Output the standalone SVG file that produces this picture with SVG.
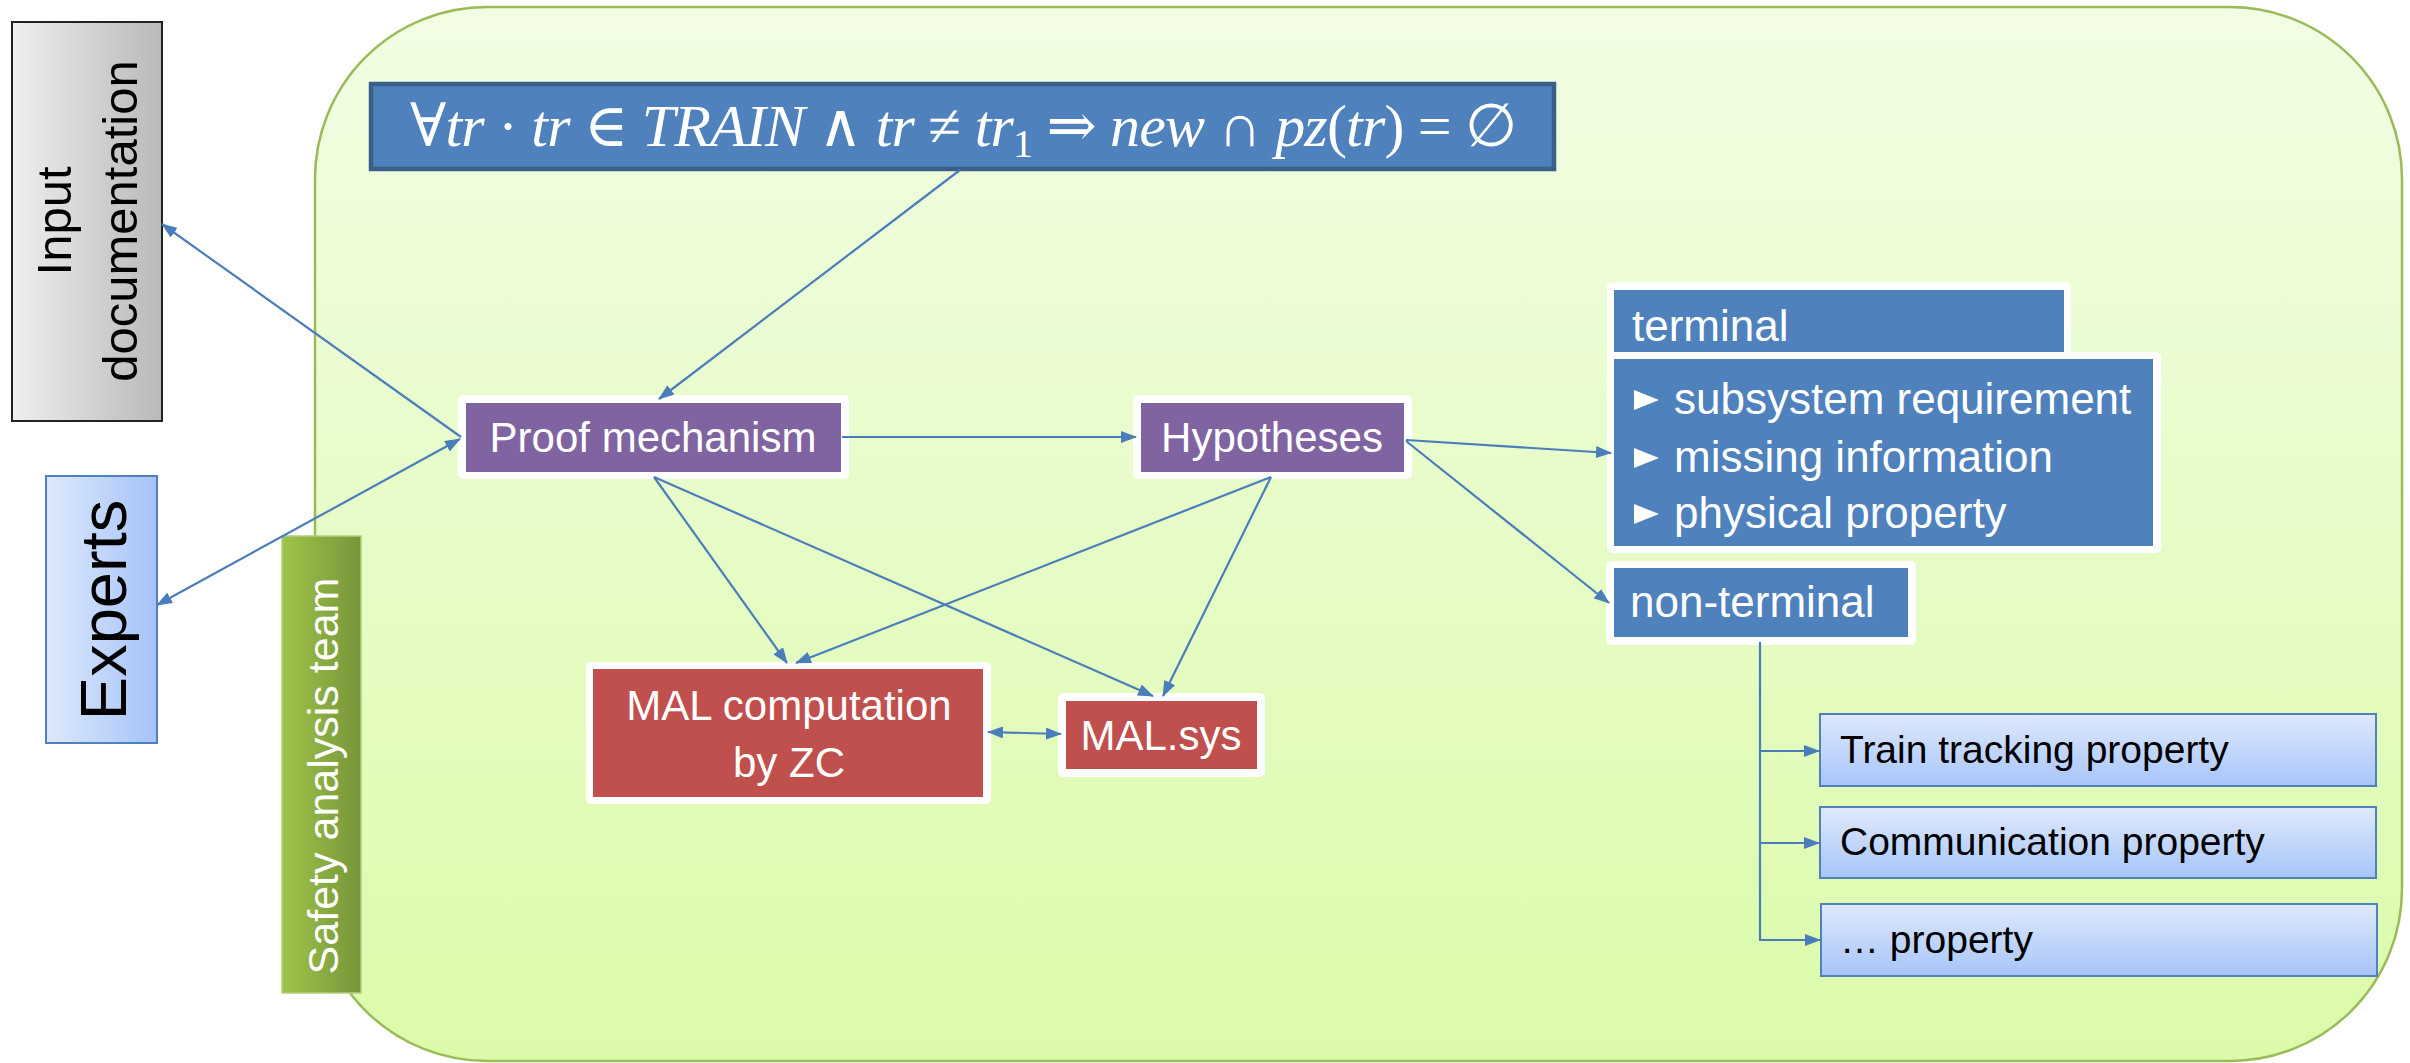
<svg xmlns="http://www.w3.org/2000/svg" width="2410" height="1063" viewBox="0 0 2410 1063">
  <defs>
    <linearGradient id="gContainer" x1="0" y1="0" x2="0" y2="1">
      <stop offset="0" stop-color="#f2fde4"/>
      <stop offset="1" stop-color="#dbfbaa"/>
    </linearGradient>
    <linearGradient id="gGray" x1="0" y1="0" x2="1" y2="0">
      <stop offset="0" stop-color="#efefef"/>
      <stop offset="1" stop-color="#b9b9b9"/>
    </linearGradient>
    <linearGradient id="gExperts" x1="0" y1="0" x2="1" y2="0">
      <stop offset="0" stop-color="#dfe9fd"/>
      <stop offset="1" stop-color="#a4c3f8"/>
    </linearGradient>
    <linearGradient id="gProp" x1="0" y1="0" x2="0" y2="1">
      <stop offset="0" stop-color="#dfe9fd"/>
      <stop offset="1" stop-color="#a7c5f9"/>
    </linearGradient>
    <linearGradient id="gTeam" x1="0" y1="0" x2="1" y2="0">
      <stop offset="0" stop-color="#9fc449"/>
      <stop offset="1" stop-color="#76953a"/>
    </linearGradient>
    <marker id="arrow" viewBox="0 0 16 12" refX="15" refY="6" markerWidth="16" markerHeight="12" markerUnits="userSpaceOnUse" orient="auto-start-reverse">
      <path d="M0,0 L16,6 L0,12 Z" fill="#4a7ebb"/>
    </marker>
    <style>
      .conn { stroke: #4a7ebb; stroke-width: 2.2; fill: none; }
      .frame { fill: #ffffff; }
      .purple { fill: #8064a2; }
      .red { fill: #c0504d; }
      .blue { fill: #4f81bd; }
      .prop { fill: url(#gProp); stroke: #4f81bd; stroke-width: 2; }
      .lbl { font-family: "Liberation Sans", Arial, sans-serif; }
      .wt { fill: #ffffff; }
      .bk { fill: #000000; }
      .math { font-family: "Liberation Serif", "DejaVu Serif", serif; font-size: 60px; fill: #ffffff; }
      .it { font-style: italic; }
    </style>
  </defs>

  <!-- outer rounded region -->
  <g id="region">
    <rect x="315" y="7" width="2087" height="1054" rx="172" ry="172" fill="url(#gContainer)" stroke="#9bbb59" stroke-width="2.5"/>
  </g>

  <!-- external actors -->
  <g id="input-documentation">
    <rect x="12" y="22" width="150" height="399" fill="url(#gGray)" stroke="#222222" stroke-width="2"/>
    <text class="lbl bk" font-size="49" text-anchor="middle" transform="translate(71,221) rotate(-90)">Input</text>
    <text class="lbl bk" font-size="49" text-anchor="middle" transform="translate(137,221) rotate(-90)">documentation</text>
  </g>

  <g id="experts">
    <rect x="46" y="476" width="111" height="267" fill="url(#gExperts)" stroke="#4f81bd" stroke-width="2"/>
    <text class="lbl bk" font-size="65" text-anchor="middle" transform="translate(126,610) rotate(-90)">Experts</text>
  </g>

  <g id="safety-analysis-team">
    <rect x="282" y="536" width="79" height="457" fill="url(#gTeam)" stroke="#b2cf7e" stroke-width="1.5"/>
    <text class="lbl wt" font-size="43" text-anchor="middle" transform="translate(338,776) rotate(-90)">Safety analysis team</text>
  </g>

  <!-- invariant -->
  <g id="invariant">
    <rect x="371" y="84" width="1183" height="85" fill="#4f81bd" stroke="#3a5f8b" stroke-width="4.5"/>
    <text class="math" x="410" y="146" textLength="1107" lengthAdjust="spacing">∀<tspan class="it">tr</tspan> · <tspan class="it">tr</tspan> ∈ <tspan class="it">TRAIN</tspan> ∧ <tspan class="it">tr</tspan> ≠ <tspan class="it">tr</tspan><tspan font-size="40" dy="11">1</tspan><tspan dy="-11"> ⇒ </tspan><tspan class="it">new</tspan> ∩ <tspan class="it">pz</tspan>(<tspan class="it">tr</tspan>) = ∅</text>
  </g>

  <!-- process nodes -->
  <g id="proof-mechanism">
    <rect class="frame" x="458" y="395" width="391" height="84" rx="5"/>
    <rect class="purple" x="466" y="403" width="375" height="69"/>
    <text class="lbl wt" font-size="42" text-anchor="middle" x="653" y="452">Proof mechanism</text>
  </g>

  <g id="hypotheses">
    <rect class="frame" x="1133" y="395" width="279" height="84" rx="5"/>
    <rect class="purple" x="1141" y="403" width="263" height="69"/>
    <text class="lbl wt" font-size="42" text-anchor="middle" x="1272" y="452">Hypotheses</text>
  </g>

  <g id="mal-computation">
    <rect class="frame" x="586" y="662" width="405" height="142" rx="5"/>
    <rect class="red" x="593" y="669" width="390" height="128"/>
    <text class="lbl wt" font-size="42" text-anchor="middle" x="789" y="720">MAL computation</text>
    <text class="lbl wt" font-size="42" text-anchor="middle" x="789" y="777">by ZC</text>
  </g>

  <g id="mal-sys">
    <rect class="frame" x="1058" y="693" width="207" height="84" rx="5"/>
    <rect class="red" x="1066" y="701" width="191" height="68"/>
    <text class="lbl wt" font-size="42" text-anchor="middle" x="1161" y="750">MAL.sys</text>
  </g>

  <!-- hypothesis classes -->
  <g id="terminal">
    <rect class="frame" x="1607" y="282" width="464" height="78" rx="5"/>
    <rect class="frame" x="1607" y="352" width="554" height="201" rx="5"/>
    <rect class="blue" x="1614" y="290" width="450" height="62"/>
    <rect class="blue" x="1614" y="359" width="539" height="187"/>
    <text class="lbl wt" font-size="44" x="1632" y="341">terminal</text>
    <polygon class="wt" points="1634,390 1659,400 1634,410"/>
    <polygon class="wt" points="1634,448 1659,458 1634,468"/>
    <polygon class="wt" points="1634,504 1659,514 1634,524"/>
    <text class="lbl wt" font-size="44" x="1674" y="414">subsystem requirement</text>
    <text class="lbl wt" font-size="44" x="1674" y="472">missing information</text>
    <text class="lbl wt" font-size="44" x="1674" y="528">physical property</text>
  </g>

  <g id="non-terminal">
    <rect class="frame" x="1606" y="561" width="310" height="84" rx="5"/>
    <rect class="blue" x="1614" y="568" width="294" height="69"/>
    <text class="lbl wt" font-size="44" x="1630" y="617">non-terminal</text>
  </g>

  <g id="train-tracking-property">
    <rect class="prop" x="1820" y="714" width="556" height="72"/>
    <text class="lbl bk" font-size="39" x="1840" y="763">Train tracking property</text>
  </g>

  <g id="communication-property">
    <rect class="prop" x="1820" y="807" width="556" height="71"/>
    <text class="lbl bk" font-size="39" x="1840" y="855">Communication property</text>
  </g>

  <g id="other-property">
    <rect class="prop" x="1821" y="904" width="556" height="72"/>
    <text class="lbl bk" font-size="39" x="1840" y="953">… property</text>
  </g>

  <!-- connectors -->
  <g id="connectors">
    <line class="conn" x1="960" y1="170" x2="659" y2="399" marker-end="url(#arrow)"/>
    <line class="conn" x1="461" y1="437" x2="162" y2="224" marker-end="url(#arrow)"/>
    <line class="conn" x1="157" y1="605" x2="460" y2="439" marker-start="url(#arrow)" marker-end="url(#arrow)"/>
    <line class="conn" x1="842" y1="437" x2="1136" y2="437" marker-end="url(#arrow)"/>
    <line class="conn" x1="654" y1="477" x2="787" y2="663" marker-end="url(#arrow)"/>
    <line class="conn" x1="654" y1="477" x2="1153" y2="696" marker-end="url(#arrow)"/>
    <line class="conn" x1="1271" y1="477" x2="796" y2="663" marker-end="url(#arrow)"/>
    <line class="conn" x1="1271" y1="477" x2="1163" y2="696" marker-end="url(#arrow)"/>
    <line class="conn" x1="988" y1="732" x2="1061" y2="734" marker-start="url(#arrow)" marker-end="url(#arrow)"/>
    <line class="conn" x1="1406" y1="440" x2="1611" y2="453" marker-end="url(#arrow)"/>
    <line class="conn" x1="1406" y1="441" x2="1609" y2="603" marker-end="url(#arrow)"/>
    <path class="conn" d="M1760,642 V940"/>
    <line class="conn" x1="1760" y1="751" x2="1819" y2="751" marker-end="url(#arrow)"/>
    <line class="conn" x1="1760" y1="843" x2="1819" y2="843" marker-end="url(#arrow)"/>
    <line class="conn" x1="1759" y1="940" x2="1820" y2="940" marker-end="url(#arrow)"/>
  </g>
</svg>
